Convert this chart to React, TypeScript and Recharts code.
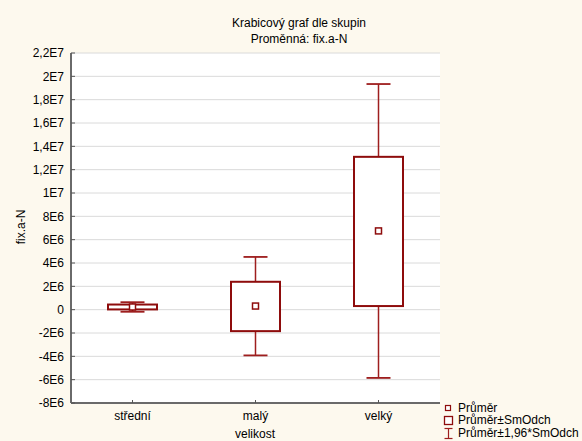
import React from 'react';
import { ComposedChart, Bar, XAxis, YAxis, CartesianGrid } from 'recharts';

// values (Statistica box plot: mean, mean±SD, mean±1.96*SD)
const groups = ['střední', 'malý', 'velký'];
const means = [2.3e5, 3.1e5, 6.75e6];
const boxLow = [2e4, -1.84e6, 3.1e5];
const boxHigh = [4.4e5, 2.39e6, 1.31e7];
const whiskerLow = [-1.8e5, -3.92e6, -5.85e6];
const whiskerHigh = [6.4e5, 4.52e6, 1.934e7];
const yTicks = [-8e6, -6e6, -4e6, -2e6, 0, 2e6, 4e6, 6e6, 8e6, 1e7, 1.2e7, 1.4e7, 1.6e7, 1.8e7, 2e7, 2.2e7];

const data = groups.map((name, i) => ({
  name,
  range: [whiskerLow[i], whiskerHigh[i]],
  mean: means[i],
  boxLow: boxLow[i],
  boxHigh: boxHigh[i],
  wLow: whiskerLow[i],
  wHigh: whiskerHigh[i],
}));

const RED = '#8e0c0c';
const WHISK = '#9e1e1e';
const FONT = 'Arial, "Liberation Sans", sans-serif';
const BG = '#fdf9ee';

const fmtTick = (v: number) => {
  if (v === 0) return '0';
  const exp = Math.floor(Math.log10(Math.abs(v)));
  const m = Math.round((v / Math.pow(10, exp)) * 1000) / 1000;
  return `${String(m).replace('.', ',')}E${exp}`;
};

// draws whiskers, SD box and mean square inside the bar's (whisker range) geometry
const BoxShape = (props: any) => {
  const { x, y, width, height, payload } = props;
  if (payload == null) return null;
  const top = Math.min(y, y + height);
  const h = Math.abs(height);
  const k = h / (payload.wHigh - payload.wLow);
  const toY = (v: number) => top + (payload.wHigh - v) * k;
  const cx = x + width / 2;
  const cap = 12;
  const yb1 = toY(payload.boxHigh);
  const yb2 = toY(payload.boxLow);
  const ym = toY(payload.mean);
  return (
    <g>
      <line x1={cx} x2={cx} y1={toY(payload.wHigh)} y2={yb1} stroke={WHISK} strokeWidth={1.5} />
      <line x1={cx} x2={cx} y1={yb2} y2={toY(payload.wLow)} stroke={WHISK} strokeWidth={1.5} />
      <line x1={cx - cap} x2={cx + cap} y1={toY(payload.wHigh)} y2={toY(payload.wHigh)} stroke={WHISK} strokeWidth={1.8} />
      <line x1={cx - cap} x2={cx + cap} y1={toY(payload.wLow)} y2={toY(payload.wLow)} stroke={WHISK} strokeWidth={1.8} />
      <rect x={x} y={yb1} width={width} height={yb2 - yb1} fill="#fff" stroke={RED} strokeWidth={2} />
      <rect x={cx - 3} y={ym - 3} width={6} height={6} fill="#fff" stroke={RED} strokeWidth={1.5} />
    </g>
  );
};

export default function App() {
  return (
    <div style={{ position: 'absolute', left: 0, top: 0, width: 582, height: 441, background: BG, fontFamily: FONT }}>
      <ComposedChart
        width={582}
        height={441}
        data={data}
        margin={{ top: 53, right: 142, bottom: 8, left: 0 }}
      >
        <CartesianGrid vertical={false} stroke="#dadada" fill="#ffffff" />
        <XAxis
          dataKey="name"
          height={30}
          interval={0}
          tickSize={-3}
          tickMargin={11}
          axisLine={{ stroke: '#6a6a6a', strokeWidth: 2 }}
          tickLine={{ stroke: '#555' }}
          tick={{ fontSize: 12, fill: '#000', fontFamily: FONT }}
        />
        <XAxis
          xAxisId="top"
          dataKey="name"
          orientation="top"
          height={0}
          tick={false}
          tickSize={-4}
          axisLine={{ stroke: '#000' }}
          tickLine={{ stroke: '#000' }}
        />
        <YAxis
          type="number"
          width={71}
          domain={[-8e6, 2.2e7]}
          ticks={yTicks}
          interval={0}
          tickFormatter={fmtTick}
          tickSize={-4}
          tickMargin={11}
          axisLine={{ stroke: '#6a6a6a', strokeWidth: 2 }}
          tickLine={{ stroke: '#555' }}
          tick={{ fontSize: 12, fill: '#000', fontFamily: FONT }}
        />
        <YAxis
          yAxisId="right"
          type="number"
          orientation="right"
          width={0}
          domain={[-8e6, 2.2e7]}
          ticks={yTicks}
          interval={0}
          tick={false}
          tickSize={-4}
          axisLine={{ stroke: '#000' }}
          tickLine={{ stroke: '#000' }}
        />
        <Bar dataKey="range" barSize={49} isAnimationActive={false} shape={BoxShape} />
      </ComposedChart>

      <svg width={582} height={441} style={{ position: 'absolute', left: 0, top: 0, pointerEvents: 'none' }}>
        <g fontFamily={FONT} fontSize={12} fill="#000">
          <text x={299} y={26.5} textAnchor="middle">Krabicový graf dle skupin</text>
          <text x={299} y={42.5} textAnchor="middle">Proměnná: fix.a-N</text>
          <text transform="translate(25,227) rotate(-90)" textAnchor="middle">fix.a-N</text>
          <text x={255} y={437.5} textAnchor="middle">velikost</text>
          <text x={458} y={411.5}>Průměr</text>
          <text x={458} y={424}>Průměr±SmOdch</text>
          <text x={458} y={436.5}>Průměr±1,96*SmOdch</text>
        </g>
        <rect x={445.5} y={405.5} width={5} height={5} fill="#fff" stroke={RED} strokeWidth={1.2} />
        <rect x={444.5} y={416.5} width={8} height={8} fill="#fff" stroke={RED} strokeWidth={1.3} />
        <line x1={448.5} x2={448.5} y1={428.5} y2={438.5} stroke={WHISK} strokeWidth={1.2} />
        <line x1={444.5} x2={452.5} y1={428.5} y2={428.5} stroke={WHISK} strokeWidth={1.2} />
        <line x1={444.5} x2={452.5} y1={438.5} y2={438.5} stroke={WHISK} strokeWidth={1.2} />
      </svg>
    </div>
  );
}
